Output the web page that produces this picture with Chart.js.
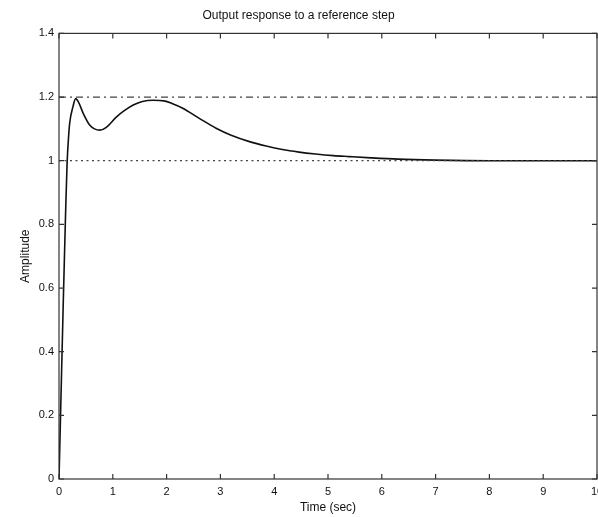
<!DOCTYPE html>
<html>
<head>
<meta charset="utf-8">
<script src="https://cdn.jsdelivr.net/npm/chart.js@4"></script>
<style>
  html, body { margin: 0; padding: 0; background: #fff; overflow: hidden; }
  #wrap { width: 598px; height: 517px; }
</style>
</head>
<body>
<div id="wrap"><canvas id="stepChart" width="598" height="517"></canvas></div>
<script>
// Step response
const timeSec = [0, 0.04, 0.08, 0.12, 0.15, 0.18, 0.2, 0.26, 0.31, 0.36,
                 0.45, 0.57, 0.66, 0.76, 0.88, 1.07, 1.22, 1.38, 1.55, 1.75,
                 1.95, 2.1, 2.3, 2.6, 2.92, 3.2, 3.54, 3.85, 4.15, 4.46,
                 4.77, 5.1, 5.39, 5.8, 6.3, 7, 8, 9, 10];
const amplitude = [0, 0.28, 0.56, 0.82, 0.99, 1.08, 1.12, 1.17, 1.195, 1.185,
                   1.149, 1.112, 1.1, 1.096, 1.105, 1.138, 1.158, 1.175, 1.186, 1.19,
                   1.188, 1.18, 1.165, 1.134, 1.102, 1.08, 1.06, 1.046, 1.035, 1.027,
                   1.021, 1.016, 1.013, 1.009, 1.005, 1.002, 1.0, 1.0, 1.0];

// horizontal reference lines
const refTimes = [0, 10];
const overshootLimit = [1.2, 1.2];
const finalValue = [1, 1];

const xTickLabels = ['0', '1', '2', '3', '4', '5', '6', '7', '8', '9', '10'];
const yTickLabels = ['0', '0.2', '0.4', '0.6', '0.8', '1', '1.2', '1.4'];

function toPoints(xs, ys) {
    return xs.map(function(x, i) { return { x: x, y: ys[i] }; });
}

// Box around the plot with small inward ticks on all four sides
const boxTicks = {
    id: 'boxTicks',
    afterDraw: function(chart) {
        const ctx = chart.ctx;
        const a = chart.chartArea;
        const xs = chart.scales.x;
        const ys = chart.scales.y;
        const len = 5;
        ctx.save();
        ctx.strokeStyle = '#333';
        ctx.lineWidth = 1.2;
        ctx.strokeRect(a.left, a.top, a.right - a.left, a.bottom - a.top);
        ctx.beginPath();
        xs.ticks.forEach(function(t) {
            const px = xs.getPixelForValue(t.value);
            ctx.moveTo(px, a.bottom); ctx.lineTo(px, a.bottom - len);
            ctx.moveTo(px, a.top); ctx.lineTo(px, a.top + len);
        });
        ys.ticks.forEach(function(t) {
            const py = ys.getPixelForValue(t.value);
            ctx.moveTo(a.left, py); ctx.lineTo(a.left + len, py);
            ctx.moveTo(a.right, py); ctx.lineTo(a.right - len, py);
        });
        ctx.stroke();
        ctx.restore();
    }
};

const ctx = document.getElementById('stepChart').getContext('2d');
new Chart(ctx, {
    type: 'line',
    data: {
        datasets: [{
            label: 'Limit',
            data: toPoints(refTimes, overshootLimit),
            borderColor: '#444',
            borderWidth: 1.2,
            borderDash: [7, 4, 2, 4],
            pointRadius: 0
        }, {
            label: 'Final',
            data: toPoints(refTimes, finalValue),
            borderColor: '#444',
            borderWidth: 1.2,
            borderDash: [2, 3.5],
            pointRadius: 0
        }, {
            label: 'Output',
            data: toPoints(timeSec, amplitude),
            borderColor: '#111',
            borderWidth: 1.6,
            cubicInterpolationMode: 'monotone',
            pointRadius: 0
        }]
    },
    options: {
        responsive: false,
        animation: false,
        layout: { padding: { top: 0, right: 1, bottom: 0, left: 0 } },
        plugins: {
            legend: { display: false },
            tooltip: { enabled: false },
            title: {
                display: true,
                text: 'Output response to a reference step',
                color: '#111',
                font: { family: 'Liberation Sans', size: 12, weight: 'normal' },
                padding: { top: 8, bottom: 11 }
            }
        },
        scales: {
            x: {
                type: 'linear',
                min: 0,
                max: 10,
                grid: { display: false, drawTicks: false },
                border: { display: false },
                ticks: {
                    stepSize: 1,
                    padding: 6,
                    color: '#111',
                    maxRotation: 0,
                    font: { family: 'Liberation Sans', size: 11 },
                    callback: function(v) { return xTickLabels[Math.round(v)]; }
                },
                title: {
                    display: true,
                    text: 'Time (sec)',
                    color: '#111',
                    font: { family: 'Liberation Sans', size: 12 },
                    padding: { top: 0, bottom: 2 }
                },
                afterFit: function(scale) {
                    scale.height = 38;
                    scale.paddingLeft = 0;
                    scale.paddingRight = 0;
                }
            },
            y: {
                min: 0,
                max: 1.4,
                grid: { display: false, drawTicks: false },
                border: { display: false },
                ticks: {
                    stepSize: 0.2,
                    padding: 5,
                    color: '#111',
                    font: { family: 'Liberation Sans', size: 11 },
                    callback: function(v) { return yTickLabels[Math.round(v / 0.2)]; }
                },
                title: {
                    display: true,
                    text: 'Amplitude',
                    color: '#111',
                    font: { family: 'Liberation Sans', size: 12 },
                    padding: { top: 18, bottom: 0 }
                },
                afterFit: function(scale) {
                    scale.width = 59;
                    scale.paddingTop = 0;
                    scale.paddingBottom = 0;
                }
            }
        }
    },
    plugins: [boxTicks]
});
</script>
</body>
</html>
